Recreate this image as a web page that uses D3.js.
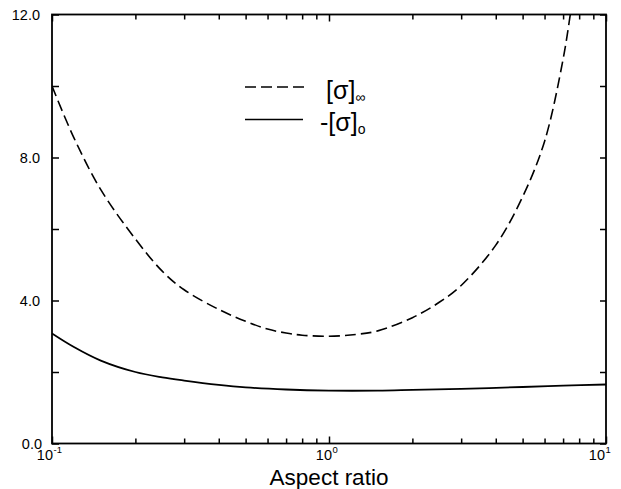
<!DOCTYPE html>
<html>
<head>
<meta charset="utf-8">
<script src="https://cdn.jsdelivr.net/npm/d3@7"></script>
<style>
  html, body { margin: 0; padding: 0; background: #fff; }
  svg { display: block; font-family: "Liberation Sans", Arial, sans-serif; }
</style>
</head>
<body>
<svg id="chart" width="621" height="489"></svg>
<script>
// ---- data ----
const aspectInf = [0.1, 0.12, 0.15, 0.2, 0.25, 0.3, 0.4, 0.5, 0.6, 0.7, 0.8, 1, 1.25, 1.5, 2, 2.5, 3, 4, 5, 6, 7, 7.5, 8];
const sigmaInf  = [10.0, 8.55, 7.1, 5.72, 4.82, 4.3, 3.75, 3.42, 3.2, 3.09, 3.03, 3.0, 3.05, 3.15, 3.52, 3.95, 4.42, 5.55, 6.9, 8.45, 10.75, 12.2, 13.6];
const aspectZero = [0.1, 0.12, 0.15, 0.2, 0.25, 0.3, 0.4, 0.5, 0.7, 1, 1.5, 2, 3, 5, 7, 10];
const sigmaZero  = [3.08, 2.7, 2.32, 2.0, 1.85, 1.76, 1.64, 1.57, 1.51, 1.48, 1.48, 1.5, 1.53, 1.58, 1.62, 1.65];
const yTickLabels = ["0.0", "4.0", "8.0", "12.0"];
const yTickValues = [0, 4, 8, 12];
const yMinorValues = [2, 6, 10];
const xMajorValues = [0.1, 1, 10];
const xMajorExp = ["-1", "0", "1"];
const xLabel = "Aspect ratio";

// ---- layout ----
const L = 52, R = 606, T = 14.5, B = 443.5;
const svg = d3.select("#chart");
const x = d3.scaleLog().domain([0.1, 10]).range([L, R]);
const y = d3.scaleLinear().domain([0, 12]).range([B, T]);

const xMinor = [];
[0.1, 1].forEach(d => { for (let k = 2; k <= 9; k++) xMinor.push(d * k); });

svg.append("defs").append("clipPath").attr("id", "plotclip")
  .append("rect").attr("x", L).attr("y", T).attr("width", R - L).attr("height", B - T);

function tickAxis(axisFn, scale, values, size, transform) {
  const g = svg.append("g").attr("transform", transform)
    .call(axisFn(scale).tickValues(values).tickSize(size).tickFormat(""));
  g.select(".domain").remove();
  g.selectAll(".tick line").attr("stroke", "#000").attr("stroke-width", 1.5);
  return g;
}
tickAxis(d3.axisBottom, x, xMajorValues, -7, `translate(0,${B})`);
tickAxis(d3.axisBottom, x, xMinor, -5, `translate(0,${B})`);
tickAxis(d3.axisTop, x, xMajorValues, -7, `translate(0,${T})`);
tickAxis(d3.axisTop, x, xMinor, -5, `translate(0,${T})`);
tickAxis(d3.axisLeft, y, yTickValues.concat(yMinorValues), -7, `translate(${L},0)`);
tickAxis(d3.axisRight, y, yTickValues.concat(yMinorValues), -6, `translate(${R},0)`);

svg.append("rect").attr("x", L).attr("y", T).attr("width", R - L).attr("height", B - T)
  .attr("fill", "none").attr("stroke", "#000").attr("stroke-width", 1.8);

svg.append("g").selectAll("text").data(yTickValues).join("text")
  .attr("x", (d, i) => i === 0 ? 42 : 40)
  .attr("y", d => y(d) + 5)
  .attr("text-anchor", "end")
  .attr("font-size", 14.5)
  .text((d, i) => yTickLabels[i]);

const xl = svg.append("g");
xMajorValues.forEach((v, i) => {
  const px = x(v) + (i === 2 ? -1 : (i === 1 ? 3 : 1));
  xl.append("text").attr("x", px).attr("y", 460).attr("text-anchor", "end")
    .attr("font-size", 14.5).text("10");
  xl.append("text").attr("x", px + 0.5).attr("y", 453).attr("text-anchor", "start")
    .attr("font-size", 9.5).text(xMajorExp[i]);
});

svg.append("text").attr("x", (L + R) / 2).attr("y", 485).attr("text-anchor", "middle")
  .attr("font-size", 22.5).text(xLabel);

const line = d3.line().x(d => x(d[0])).y(d => y(d[1])).curve(d3.curveCatmullRom.alpha(0.5));
const gC = svg.append("g").attr("clip-path", "url(#plotclip)");
gC.append("path").datum(aspectInf.map((a, i) => [a, sigmaInf[i]]))
  .attr("d", line).attr("fill", "none").attr("stroke", "#000")
  .attr("stroke-width", 1.6).attr("stroke-dasharray", "11,5");
gC.append("path").datum(aspectZero.map((a, i) => [a, sigmaZero[i]]))
  .attr("d", line).attr("fill", "none").attr("stroke", "#000")
  .attr("stroke-width", 1.8);

const lg = svg.append("g");
lg.append("line").attr("x1", 245).attr("x2", 304).attr("y1", 87).attr("y2", 87)
  .attr("stroke", "#000").attr("stroke-width", 1.6).attr("stroke-dasharray", "11,5");
lg.append("line").attr("x1", 245).attr("x2", 303).attr("y1", 119.5).attr("y2", 119.5)
  .attr("stroke", "#000").attr("stroke-width", 1.6);
const t1 = lg.append("text").attr("x", 326).attr("y", 99).attr("font-size", 25);
t1.append("tspan").text("[σ]");
t1.append("tspan").attr("font-size", 14).attr("dy", 3).text("∞");
const t2 = lg.append("text").attr("x", 320).attr("y", 131).attr("font-size", 25);
t2.append("tspan").text("-[σ]");
t2.append("tspan").attr("font-size", 14).attr("dy", 3).text("o");
</script>
</body>
</html>
